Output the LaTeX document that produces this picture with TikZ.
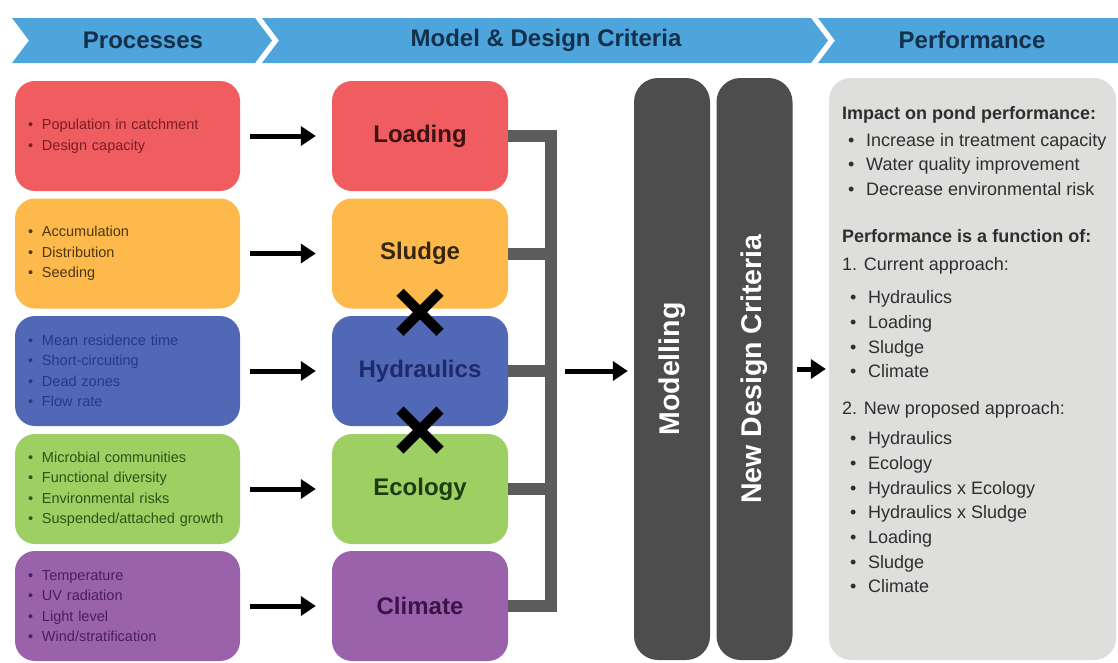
\documentclass[tikz,border=0pt]{standalone}
\usepackage{fontspec}
\setmainfont{Liberation Sans}
\usetikzlibrary{arrows.meta,positioning,calc,shapes.misc}
\definecolor{cRed}{HTML}{EF5D60}
\definecolor{cOrange}{HTML}{FDB94C}
\definecolor{cBlue}{HTML}{5068B6}
\definecolor{cGreen}{HTML}{9DCF63}
\definecolor{cPurple}{HTML}{9B62AC}
\definecolor{tRed}{HTML}{7A1E24}
\definecolor{tOrange}{HTML}{4D3711}
\definecolor{tBlue}{HTML}{27388A}
\definecolor{tGreen}{HTML}{2C5418}
\definecolor{tPurple}{HTML}{4A1E5E}
\definecolor{dRed}{HTML}{3D1214}
\definecolor{dOrange}{HTML}{35270E}
\definecolor{dBlue}{HTML}{1E2A6B}
\definecolor{dGreen}{HTML}{1F3B12}
\definecolor{dPurple}{HTML}{3A1449}
\definecolor{hdrBlue}{HTML}{4EA5DC}
\definecolor{hdrText}{HTML}{14304A}
\definecolor{barGray}{HTML}{4D4D4D}
\definecolor{busGray}{HTML}{5C5C5C}
\definecolor{panelGray}{HTML}{DEDEDC}
\definecolor{panelText}{HTML}{2E2E2E}
\newcommand{\blt}[1]{\makebox[14pt][l]{\textbullet}#1}
\newcommand{\pblt}[1]{\makebox[18pt][l]{\textbullet}#1}

\begin{document}
\begin{tikzpicture}[
  x=1pt,y=-1pt,
  proc/.style={rounded corners=20pt,minimum width=225pt,minimum height=110pt,
               text width=199pt,align=left,inner sep=0pt,
               font=\fontsize{14.5}{20.5}\selectfont},
  crit/.style={rounded corners=20pt,minimum width=176pt,minimum height=110pt,
               inner sep=0pt,font=\bfseries\fontsize{24}{28}\selectfont},
  bar/.style={rounded corners=24pt,fill=barGray,minimum width=76pt,minimum height=582pt,
              inner sep=0pt,text=white,font=\bfseries\fontsize{28.5}{32}\selectfont},
  panel/.style={rounded corners=22pt,fill=panelGray,minimum width=287pt,minimum height=582pt},
  hdr/.style={text=hdrText,font=\bfseries\fontsize{24}{28}\selectfont},
  ptxt/.style={anchor=base west,inner sep=0pt,text=panelText,font=\fontsize{18}{22}\selectfont},
  phead/.style={ptxt,font=\bfseries\fontsize{18}{22}\selectfont},
  arr/.style={-{Triangle[length=15pt,width=19pt]},line width=5pt,draw=black},
  bus/.style={line width=12pt,draw=busGray},
  xmark/.style={cross out,draw=black,line width=10pt,minimum size=30pt,inner sep=0pt}
]
\useasboundingbox (0,0) rectangle (1118,662);
\fill[white] (0,0) rectangle (1118,662);
% header chevrons
\fill[hdrBlue] (12,18) -- (255,18) -- (272,40.5) -- (255,63) -- (12,63) -- (29,40.5) -- cycle;
\fill[hdrBlue] (262,18) -- (811,18) -- (828,40.5) -- (811,63) -- (262,63) -- (279,40.5) -- cycle;
\fill[hdrBlue] (818,18) -- (1118,18) -- (1118,63) -- (818,63) -- (835,40.5) -- cycle;
\node[hdr] (hProc) at (143,40) {Processes};
\node[hdr] (hCrit) at (546,40) {Model \& Design Criteria};
\node[hdr] (hPerf) at (972,40) {Performance};
% processes column
\node[proc,fill=cRed,text=tRed] (pLoad) at (127.5,136)
  {\blt{Population in catchment}\\\blt{Design capacity}};
\node[proc,fill=cOrange,text=tOrange] (pSludge) at (127.5,253.5)
  {\blt{Accumulation}\\\blt{Distribution}\\\blt{Seeding}};
\node[proc,fill=cBlue,text=tBlue] (pHyd) at (127.5,371)
  {\blt{Mean residence time}\\\blt{Short-circuiting}\\\blt{Dead zones}\\\blt{Flow rate}};
\node[proc,fill=cGreen,text=tGreen] (pEco) at (127.5,489)
  {\blt{Microbial communities}\\\blt{Functional diversity}\\\blt{Environmental risks}\\\blt{Suspended/attached growth}};
\node[proc,fill=cPurple,text=tPurple] (pClim) at (127.5,606)
  {\blt{Temperature}\\\blt{UV radiation}\\\blt{Light level}\\\blt{Wind/stratification}};
% design criteria column
\node[crit,fill=cRed,text=dRed] (loading) at (420,136) {Loading};
\node[crit,fill=cOrange,text=dOrange] (sludge) at (420,253.5) {Sludge};
\node[crit,fill=cBlue,text=dBlue] (hydraulics) at (420,371) {Hydraulics};
\node[crit,fill=cGreen,text=dGreen] (ecology) at (420,489) {Ecology};
\node[crit,fill=cPurple,text=dPurple] (climate) at (420,606) {Climate};
\node[xmark] (xSH) at ($(sludge.south)!0.5!(hydraulics.north)$) {};
\node[xmark] (xHE) at ($(hydraulics.south)!0.5!(ecology.north)$) {};
\draw[arr,shorten <=10pt,shorten >=16pt] (pLoad.east) -- (loading.west);
\draw[arr,shorten <=10pt,shorten >=16pt] (pSludge.east) -- (sludge.west);
\draw[arr,shorten <=10pt,shorten >=16pt] (pHyd.east) -- (hydraulics.west);
\draw[arr,shorten <=10pt,shorten >=16pt] (pEco.east) -- (ecology.west);
\draw[arr,shorten <=10pt,shorten >=16pt] (pClim.east) -- (climate.west);
% collecting bracket
\coordinate (bus) at ($(hydraulics.east)+(43,0)$);
\draw[bus] (loading.east) -| (bus) |- (climate.east);
\draw[bus] (sludge.east) -- (sludge.east -| bus);
\draw[bus] (hydraulics.east) -- (bus);
\draw[bus] (ecology.east) -- (ecology.east -| bus);
% modelling bars
\node[bar] (model) at (672,369) {\rotatebox{90}{Modelling}};
\node[bar] (ndc) at (754.5,369) {\rotatebox{90}{New Design Criteria}};
\draw[arr,shorten <=14pt,shorten >=6pt] (bus) -- (bus -| model.west);
% performance panel
\node[panel] (perf) at (972.5,369) {};
\draw[arr,shorten <=4pt,shorten >=3pt] (ndc.east) -- (perf.west);
\node[phead] (impact) at (842,119) {Impact on pond performance:};
\node[ptxt] (i1) at (848,146) {\pblt{Increase in treatment capacity}};
\node[ptxt] (i2) at (848,170) {\pblt{Water quality improvement}};
\node[ptxt] (i3) at (848,195) {\pblt{Decrease environmental risk}};
\node[phead] (func) at (842,242) {Performance is a function of:};
\node[ptxt] (cur) at (842,270) {1. Current approach:};
\node[ptxt] (c1) at (850,303) {\pblt{Hydraulics}};
\node[ptxt] (c2) at (850,328) {\pblt{Loading}};
\node[ptxt] (c3) at (850,353) {\pblt{Sludge}};
\node[ptxt] (c4) at (850,377) {\pblt{Climate}};
\node[ptxt] (prop) at (842,414) {2. New proposed approach:};
\node[ptxt] (n1) at (850,444) {\pblt{Hydraulics}};
\node[ptxt] (n2) at (850,469) {\pblt{Ecology}};
\node[ptxt] (n3) at (850,494) {\pblt{Hydraulics x Ecology}};
\node[ptxt] (n4) at (850,518) {\pblt{Hydraulics x Sludge}};
\node[ptxt] (n5) at (850,543) {\pblt{Loading}};
\node[ptxt] (n6) at (850,568) {\pblt{Sludge}};
\node[ptxt] (n7) at (850,592) {\pblt{Climate}};
\end{tikzpicture}
\end{document}
